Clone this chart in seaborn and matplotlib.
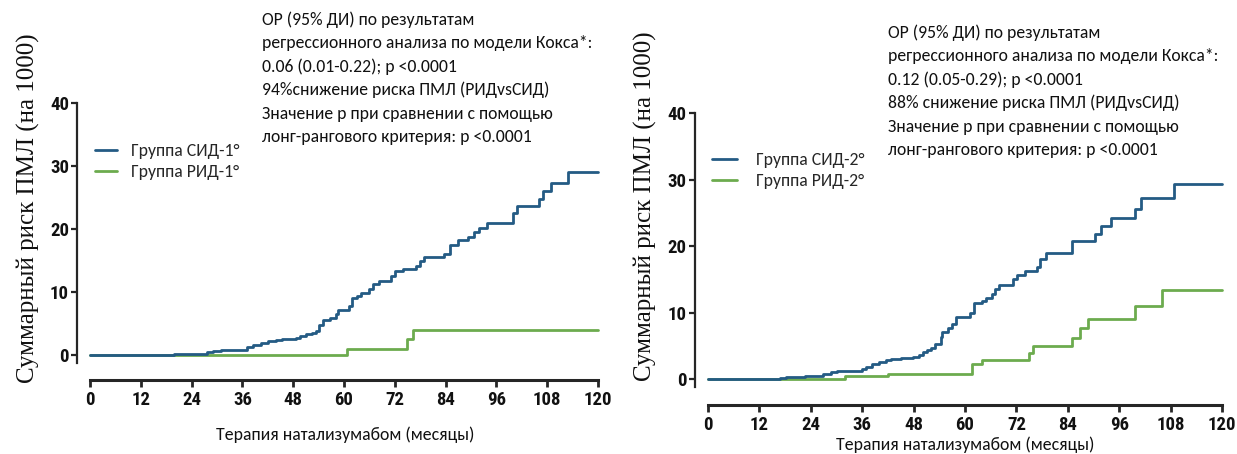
import numpy as np
import pandas as pd
import matplotlib
matplotlib.use("Agg")
import matplotlib.pyplot as plt
import seaborn as sns
from matplotlib import font_manager

# ---------------- data ----------------
months_ticks = [0, 12, 24, 36, 48, 60, 72, 84, 96, 108, 120]
risk_ticks = [0, 10, 20, 30, 40]

left_sid_t = [0, 19.8, 22.5, 27.7, 29, 31, 37, 38.4, 40.3, 42, 44, 45.4, 48.7, 49.6, 51, 52.4,
              53.3, 54, 55, 56.6, 58, 58.5, 61.3, 62, 63.1, 64, 66, 66.9, 68.2, 71, 72, 74, 77,
              78, 79, 83.6, 85, 87, 89.2, 90.6, 92, 93.9, 100, 100.9, 106, 107, 108.8, 113, 120]
left_sid_r = [0, 0.1, 0.2, 0.5, 0.7, 0.8, 1.2, 1.6, 1.9, 2.2, 2.4, 2.5, 2.7, 3.0, 3.3, 3.5,
              3.8, 4.8, 5.6, 5.9, 6.5, 7.1, 7.8, 9.0, 9.4, 9.9, 10.5, 11.2, 11.7, 12.5, 13.3, 13.7, 14.2,
              15.0, 15.5, 16.0, 17.5, 18.2, 18.8, 19.5, 20.2, 20.9, 22.5, 23.6, 24.7, 26.0, 27.3, 29.0, 29.0]
left_rid_t = [0, 60.8, 74.8, 76.2, 120]
left_rid_r = [0, 1.0, 2.5, 4.0, 4.0]

right_sid_t = [0, 16.75, 18.1, 22.7, 26.8, 28.6, 30, 36, 36.9, 38.3, 40, 41.5, 42.8, 45, 47.9,
               49.2, 50.2, 51.1, 52, 52.9, 54.3, 54.7, 56.1, 57, 57.9, 61.1, 62.1, 63.9, 64.8,
               66.2, 67, 68, 71.2, 72.1, 74, 76.7, 77.6, 79, 85, 90.4, 91.8, 94.1, 99.6, 101, 108.7, 120]
right_sid_r = [0, 0.2, 0.3, 0.5, 0.8, 1.0, 1.2, 1.5, 1.8, 2.2, 2.5, 2.8, 3.0, 3.2, 3.3,
               3.6, 4.0, 4.4, 4.6, 5.3, 6.3, 7.1, 7.6, 8.2, 9.4, 10.0, 11.4, 11.8, 12.2,
               12.8, 13.6, 14.2, 15.0, 15.7, 16.3, 16.9, 18.0, 19.0, 20.8, 21.8, 23.0, 24.2, 25.6, 27.2, 29.4, 29.4]
right_rid_t = [0, 31.9, 41.9, 61.6, 63.9, 74.9, 75.8, 85, 86.8, 88.6, 99.6, 106, 120]
right_rid_r = [0, 0.4, 0.8, 2.2, 2.9, 3.9, 4.9, 6.2, 7.6, 9.0, 11.0, 13.4, 13.4]

left_labels = ["Группа СИД-1°", "Группа РИД-1°"]
right_labels = ["Группа СИД-2°", "Группа РИД-2°"]

left_note = ["ОР (95% ДИ) по результатам",
             "регрессионного анализа по модели Кокса*:",
             "0.06 (0.01-0.22); p <0.0001",
             "94%снижение риска ПМЛ (РИДvsСИД)",
             "Значение p при сравнении с помощью",
             "лонг-рангового критерия: p <0.0001"]
right_note = ["ОР (95% ДИ) по результатам",
              "регрессионного анализа по модели Кокса*:",
              "0.12 (0.05-0.29); p <0.0001",
              "88% снижение риска ПМЛ (РИДvsСИД)",
              "Значение p при сравнении с помощью",
              "лонг-рангового критерия: p <0.0001"]

y_label = "Суммарный риск ПМЛ (на 1000)"
x_label = "Терапия натализумабом (месяцы)"

# ---------------- style ----------------
sns.set_style("ticks")
names = {f.name for f in font_manager.fontManager.ttflist}
def pick(*cands):
    for c in cands:
        if c in names:
            return c
    return "DejaVu Sans"
text_font = pick("Carlito", "Calibri", "Lato", "Open Sans")
tick_font = pick("Liberation Sans Narrow", "Roboto Condensed", "DejaVu Sans")
serif_font = pick("Liberation Serif", "DejaVu Serif")
plt.rcParams["font.family"] = [text_font, "DejaVu Sans"]

BLUE = "#245b84"
GREEN = "#6cab4e"

W, H = 1237, 454
fig = plt.figure(figsize=(W / 100, H / 100), dpi=100)

def px_axes(x0, x1, ytop, ybot):
    return fig.add_axes([x0 / W, 1 - ybot / H, (x1 - x0) / W, (ybot - ytop) / H])

panels = [
    dict(rect=(77.3, 602.2, 99.9, 364.5), xoff=15.5,
         sid=(left_sid_t, left_sid_r), rid=(left_rid_t, left_rid_r), labels=left_labels,
         note=left_note, note_xy=(262, 20), leg_xy=(95, 161.5), leg_hl=1.25, leg_pad=0.8,
         ylab_xy=(28, 208), xlab_xy=(345, 435)),
    dict(rect=(695.2, 1226.3, 109.7, 389.0), xoff=16.0,
         sid=(right_sid_t, right_sid_r), rid=(right_rid_t, right_rid_r), labels=right_labels,
         note=right_note, note_xy=(888, 33), leg_xy=(712, 170.5), leg_hl=1.4, leg_pad=1.05,
         ylab_xy=(645, 206), xlab_xy=(965, 445)),
]

for p in panels:
    ax = px_axes(*p["rect"])
    df_rid = pd.DataFrame({"t": p["rid"][0], "r": p["rid"][1]})
    df_sid = pd.DataFrame({"t": p["sid"][0], "r": p["sid"][1]})
    sns.lineplot(data=df_rid, x="t", y="r", ax=ax, color=GREEN, lw=2.0,
                 drawstyle="steps-post", label=p["labels"][1], zorder=2)
    sns.lineplot(data=df_sid, x="t", y="r", ax=ax, color=BLUE, lw=2.0,
                 drawstyle="steps-post", label=p["labels"][0], zorder=3)
    ax.set_xlim(-3, 121)
    ax.set_ylim(-1.5, 40.5)
    ax.set_xticks(months_ticks)
    ax.set_yticks(risk_ticks)
    ax.set_xlabel("")
    ax.set_ylabel("")
    for s in ["top", "right"]:
        ax.spines[s].set_visible(False)
    ax.spines["left"].set_bounds(-1.2, 40)
    ax.spines["bottom"].set_bounds(0, 120)
    ax.spines["bottom"].set_position(("outward", p["xoff"] * 72 / 100))
    ax.spines["left"].set_linewidth(1.6)
    ax.spines["bottom"].set_linewidth(2.2)
    ax.tick_params(axis="y", length=4, width=1.6, pad=2)
    ax.tick_params(axis="x", length=5, width=2.0, pad=3)
    for lab in ax.get_xticklabels() + ax.get_yticklabels():
        lab.set_fontfamily(tick_font)
        lab.set_fontweight("bold")
        lab.set_fontsize(13.5)
        lab.set_color("#111111")

    h, l = ax.get_legend_handles_labels()
    order = [l.index(p["labels"][0]), l.index(p["labels"][1])]
    ax.legend([h[i] for i in order], [l[i] for i in order], frameon=False,
              loc="center left", bbox_to_anchor=(p["leg_xy"][0] / W, 1 - p["leg_xy"][1] / H),
              bbox_transform=fig.transFigure, borderpad=0, borderaxespad=0,
              handlelength=p["leg_hl"], handletextpad=p["leg_pad"], labelspacing=0.3,
              fontsize=12.8)

    nx, ny = p["note_xy"]
    for i, line in enumerate(p["note"]):
        fig.text(nx / W, 1 - (ny + i * 23.4) / H, line, fontsize=12.7, va="center", ha="left",
                 color="#111111")
    fig.text(p["ylab_xy"][0] / W, 1 - p["ylab_xy"][1] / H, y_label, rotation=90,
             fontsize=18, family=serif_font, ha="center", va="center", color="#111111")
    fig.text(p["xlab_xy"][0] / W, 1 - p["xlab_xy"][1] / H, x_label, fontsize=12.8,
             ha="center", va="center", color="#111111")

fig.savefig("out.png", dpi=100)
